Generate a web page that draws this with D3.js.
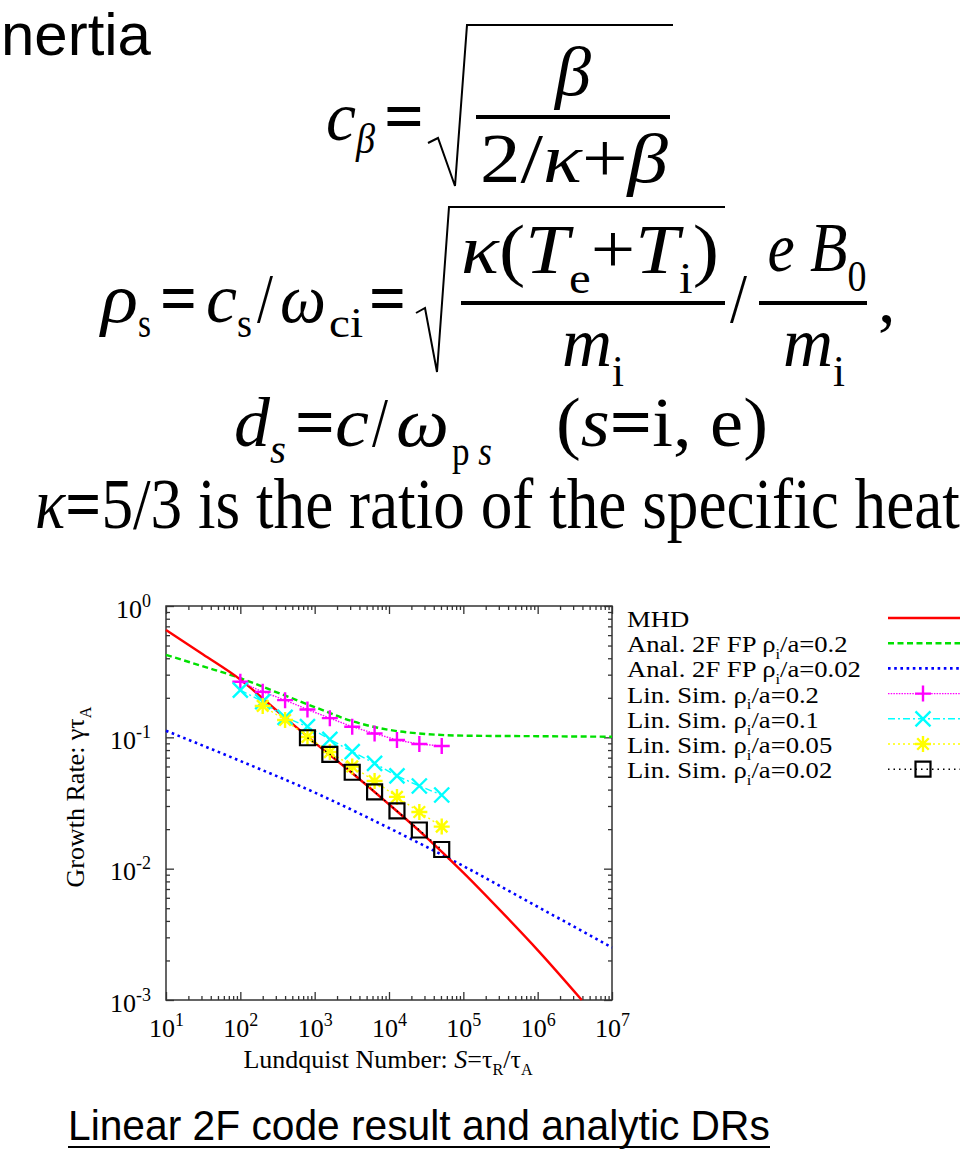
<!DOCTYPE html>
<html>
<head>
<meta charset="utf-8">
<title>Linear 2F code result</title>
<style>
body { margin: 0; background: #fff; }
svg { display: block; }
.sans { font-family: "Liberation Sans", Arial, sans-serif; }
</style>
</head>
<body>
<script src="https://cdn.jsdelivr.net/npm/d3@7/dist/d3.min.js"></script>
<script>

// ---- data ----
// Lundquist numbers of the linear runs
var sLin = [100, 200, 400, 800, 1600, 3200, 6400, 12800, 25600, 51200];
var sLin005 = [200, 400, 800, 1600, 3200, 6400, 12800, 25600, 51200];
var sLin002 = [800, 1600, 3200, 6400, 12800, 25600, 51200];

// growth rates of the linear simulations
var gLin02 = [0.265, 0.222, 0.192, 0.163, 0.140, 0.1205, 0.107, 0.0954, 0.0889, 0.0859];
var gLin01 = [0.229, 0.187, 0.142, 0.1205, 0.0966, 0.0778, 0.0634, 0.0508, 0.0426, 0.0364];
var gLin005 = [0.1734, 0.1355, 0.1007, 0.0773, 0.060, 0.0465, 0.0352, 0.0270, 0.0209];
var gLin002 = [0.0993, 0.0743, 0.0542, 0.0385, 0.0275, 0.0197, 0.0140];

// analytic curves
var sMhd = [10, 31.6, 100, 316, 1000, 3160, 1e4, 3.16e4, 1e5, 3.16e5, 1e6, 3.92e6];
var gMhd = [0.656, 0.427, 0.275, 0.158, 0.0912, 0.0537, 0.0309, 0.0174, 0.00933, 0.00479, 0.0024, 0.001];
var sAn02 = [10, 31.6, 100, 316, 1000, 3160, 1e4, 3.16e4, 1e5, 1e6, 1e7];
var gAn02 = [0.424, 0.347, 0.282, 0.219, 0.170, 0.133, 0.114, 0.106, 0.103, 0.102, 0.101];
var sAn002 = [10, 100, 1000, 1e4, 1e5, 1e6, 1e7];
var gAn002 = [0.1122, 0.0661, 0.0380, 0.0204, 0.01047, 0.00513, 0.00251];

var xTicks = [1e1, 1e2, 1e3, 1e4, 1e5, 1e6, 1e7];
var yTicks = [1e-3, 1e-2, 1e-1, 1];

var W = 964, H = 1157;
var svg = d3.select("body").append("svg").attr("width", W).attr("height", H);
svg.append("rect").attr("width", W).attr("height", H).attr("fill", "#fff");

var serif = '"Liberation Serif", "Times New Roman", serif';

// text run with italic / subscript pieces
function run(g, x, y, parts, size, anchor) {
  var t = g.append("text").attr("x", x).attr("y", y)
      .attr("font-family", serif).attr("font-size", size)
      .attr("text-anchor", anchor || "start");
  var shift = 0;
  parts.forEach(function(p) {
    var k = p[1] || "r";
    var sub = k.indexOf("s") == 0;
    var target = sub ? size * 0.28 : 0;
    var ts = t.append("tspan").text(p[0]).attr("dy", target - shift);
    shift = target;
    if (sub) ts.attr("font-size", size * 0.62);
    if (k.indexOf("i") >= 0) ts.attr("font-style", "italic");
    if (k.indexOf("b") >= 0) ts.attr("font-weight", "bold");
  });
  return t;
}
// squeeze / stretch a text horizontally about its anchor point
function stretch(t, k) {
  var x0 = +t.attr("x"), y0 = +t.attr("y");
  t.attr("transform", "translate(" + x0 + "," + y0 + ") scale(" + k + ",1) translate(" + (-x0) + "," + (-y0) + ")");
  return t;
}
function fit(t, w) {
  return stretch(t, w / t.node().getComputedTextLength());
}

// ---- slide text above the chart ----
var eq = svg.append("g");
fit(eq.append("text").attr("class", "sans").attr("x", 1).attr("y", 55)
   .attr("font-size", 60).text("nertia"), 150);

var E = 70, ES = 42;
// c_beta = sqrt(beta / (2/kappa + beta))
fit(run(eq, 326, 140, [["c", "i"]], E), 30);
fit(run(eq, 356, 153, [["β", "i"]], ES), 19);
fit(run(eq, 384, 140, [["=", "b"]], E), 40);
eq.append("path").attr("d", "M428,143L438,138L455,186L467,25H673")
   .attr("fill", "none").attr("stroke", "#000").attr("stroke-width", 2);
fit(run(eq, 573, 95, [["β", "i"]], E, "middle"), 36);
eq.append("line").attr("x1", 476).attr("x2", 670).attr("y1", 117).attr("y2", 117)
   .attr("stroke", "#000").attr("stroke-width", 4);
fit(run(eq, 574, 182, [["2/"], ["κ", "i"], ["+"], ["β", "i"]], E, "middle"), 188);

// rho_s line
fit(run(eq, 101, 322, [["ρ", "i"]], E), 37);
fit(run(eq, 138, 337, [["s"]], ES), 13);
fit(run(eq, 160, 322, [["=", "b"]], E), 37);
fit(run(eq, 206, 322, [["c", "i"]], E), 31);
fit(run(eq, 237, 337, [["s"]], ES), 15);
fit(run(eq, 257, 322, [["/"]], E), 16);
fit(run(eq, 280, 322, [["ω", "i"]], E), 46);
fit(run(eq, 329, 337, [["ci"]], ES), 34);
fit(run(eq, 369, 322, [["=", "b"]], E), 37);
eq.append("path").attr("d", "M416,313L425,308L437,372L449,207H725")
   .attr("fill", "none").attr("stroke", "#000").attr("stroke-width", 2);
fit(run(eq, 590, 273, [["κ", "i"], ["("], ["T", "i"], ["e", "s"], ["+"], ["T", "i"], ["i", "s"], [")"]], E, "middle"), 258);
eq.append("line").attr("x1", 461).attr("x2", 725).attr("y1", 303).attr("y2", 303)
   .attr("stroke", "#000").attr("stroke-width", 4);
fit(run(eq, 593, 366, [["m", "i"], ["i", "s"]], E, "middle"), 62);
fit(run(eq, 730, 322, [["/"]], E), 17);
fit(run(eq, 817, 271, [["e", "i"], [" "], ["B", "i"], ["0", "s"]], E, "middle"), 99);
eq.append("line").attr("x1", 759).attr("x2", 867).attr("y1", 303).attr("y2", 303)
   .attr("stroke", "#000").attr("stroke-width", 4);
fit(run(eq, 814, 366, [["m", "i"], ["i", "s"]], E, "middle"), 62);
run(eq, 878, 322, [[","]], E);

// d_s line
fit(run(eq, 234, 446, [["d", "i"]], E), 36);
fit(run(eq, 270, 463, [["s", "i"]], ES), 16);
fit(run(eq, 295, 446, [["=", "b"]], E), 40);
fit(run(eq, 335, 446, [["c", "i"]], E), 34);
fit(run(eq, 372, 446, [["/"]], E), 16);
fit(run(eq, 396, 446, [["ω", "i"]], E), 53);
fit(run(eq, 452, 465, [["p"], [" s", "i"]], ES), 40);
fit(run(eq, 556, 446, [["("], ["s", "i"], ["=", "b"], ["i"], [","], [" e"], [")"]], E), 212);

// kappa line
fit(run(eq, 35, 528, [["κ", "i"], ["=", "b"], ["5/3 is the ratio of the specific heat"]], 72), 925);

// ---- chart ----
var x = d3.scaleLog().domain([10, 1e7]).range([166, 612]);
var y = d3.scaleLog().domain([1e-3, 1]).range([1000, 606]);

function minors(lo, hi) {
  var out = [];
  for (var e = lo; e < hi; e++)
    for (var m = 2; m <= 9; m++) out.push(m * Math.pow(10, e));
  return out;
}
var xMinor = minors(1, 7), yMinor = minors(-3, 0);

var axisCol = "#333";
function tickAxis(axis, scale, vals, size, tr) {
  var g = svg.append("g").attr("transform", tr)
    .call(axis(scale).tickValues(vals).tickSize(-size).tickSizeOuter(0).tickFormat(""));
  g.select(".domain").remove();
  g.selectAll("line").attr("stroke", axisCol).attr("stroke-width", 1.3);
  return g;
}
tickAxis(d3.axisBottom, x, xMinor, 4, "translate(0,1000)");
tickAxis(d3.axisTop, x, xMinor, 4, "translate(0,606)");
tickAxis(d3.axisLeft, y, yMinor, 4, "translate(166,0)");
tickAxis(d3.axisRight, y, yMinor, 4, "translate(612,0)");
var xb = tickAxis(d3.axisBottom, x, xTicks, 8, "translate(0,1000)");
tickAxis(d3.axisTop, x, xTicks, 8, "translate(0,606)");
var yl = tickAxis(d3.axisLeft, y, yTicks, 8, "translate(166,0)");
tickAxis(d3.axisRight, y, yTicks, 8, "translate(612,0)");

svg.append("rect").attr("x", 166).attr("y", 606).attr("width", 446).attr("height", 394)
   .attr("fill", "none").attr("stroke", axisCol).attr("stroke-width", 1.5);

function expLabel(t, d) {
  var e = Math.round(Math.log10(d));
  t.text(null).attr("font-family", serif).attr("font-size", 26).attr("fill", "#000");
  t.append("tspan").text("10");
  t.append("tspan").text(e).attr("dy", -11).attr("font-size", 18);
}
xb.selectAll(".tick").each(function(d) {
  var t = d3.select(this).select("text");
  t.attr("y", 37).attr("dy", null).attr("text-anchor", "middle");
  expLabel(t, d);
});
yl.selectAll(".tick").each(function(d) {
  var t = d3.select(this).select("text");
  t.attr("x", -15).attr("dy", 11).attr("text-anchor", "end");
  expLabel(t, d);
});

// axis titles
run(svg, 388, 1068, [["Lundquist Number: "], ["S", "i"], ["=τ"], ["R", "s"], ["/τ"], ["A", "s"]], 26, "middle");
var ylab = svg.append("g").attr("transform", "translate(84,797) rotate(-90)");
run(ylab, 0, 0, [["Growth Rate: γτ"], ["A", "s"]], 26, "middle");

// curves
var line = d3.line().x(function(d) { return x(d[0]); }).y(function(d) { return y(d[1]); })
    .curve(d3.curveMonotoneX);
function zip(a, b) { return a.map(function(v, i) { return [v, b[i]]; }); }

var plot = svg.append("g");
plot.append("path").datum(zip(sAn002, gAn002)).attr("d", line)
    .attr("fill", "none").attr("stroke", "#0000ff").attr("stroke-width", 2.6).attr("stroke-dasharray", "2.6,3.6");
plot.append("path").datum(zip(sAn02, gAn02)).attr("d", line)
    .attr("fill", "none").attr("stroke", "#00e000").attr("stroke-width", 2.4).attr("stroke-dasharray", "6,3.5");
plot.append("path").datum(zip(sMhd, gMhd)).attr("d", line)
    .attr("fill", "none").attr("stroke", "#ff0000").attr("stroke-width", 2.4);

function plusP(h) { return "M" + (-h) + ",0H" + h + "M0," + (-h) + "V" + h; }
function crossP(h) { return "M" + (-h) + "," + (-h) + "L" + h + "," + h + "M" + (-h) + "," + h + "L" + h + "," + (-h); }
function starP(h) { return plusP(h) + crossP(h * 0.72); }
function squareP(h) { return "M" + (-h) + "," + (-h) + "H" + h + "V" + h + "H" + (-h) + "Z"; }

var series = [
  {s: sLin, g: gLin02, color: "#ff00ff", dash: "1.5,1.2", sym: plusP(8), sw: 2.4},
  {s: sLin, g: gLin01, color: "#00ffff", dash: "7,3,2,3", sym: crossP(7.5), sw: 2.4},
  {s: sLin005, g: gLin005, color: "#ffff00", dash: "2,3", sym: starP(8), sw: 2.4},
  {s: sLin002, g: gLin002, color: "#000000", dash: "1.5,4", sym: squareP(7.5), sw: 2.2}
];
var linLine = d3.line().x(function(d) { return x(d[0]); }).y(function(d) { return y(d[1]); });
series.forEach(function(se) {
  var pts = zip(se.s, se.g);
  plot.append("path").datum(pts).attr("d", linLine)
      .attr("fill", "none").attr("stroke", se.color).attr("stroke-width", 1.4)
      .attr("stroke-dasharray", se.dash);
  plot.selectAll(null).data(pts).enter().append("path")
      .attr("transform", function(d) { return "translate(" + x(d[0]) + "," + y(d[1]) + ")"; })
      .attr("d", se.sym).attr("fill", "none").attr("stroke", se.color).attr("stroke-width", se.sw);
});

// legend
var legend = [
  {label: [["MHD"]], color: "#ff0000", dash: null, w: 2.4},
  {label: [["Anal. 2F FP ρ"], ["i", "s"], ["/a=0.2"]], color: "#00e000", dash: "6,3.5", w: 2.4},
  {label: [["Anal. 2F FP ρ"], ["i", "s"], ["/a=0.02"]], color: "#0000ff", dash: "2.6,3.6", w: 2.6},
  {label: [["Lin. Sim. ρ"], ["i", "s"], ["/a=0.2"]], color: "#ff00ff", dash: "1.5,1.2", w: 1.4, sym: series[0]},
  {label: [["Lin. Sim. ρ"], ["i", "s"], ["/a=0.1"]], color: "#00ffff", dash: "7,3,2,3", w: 1.4, sym: series[1]},
  {label: [["Lin. Sim. ρ"], ["i", "s"], ["/a=0.05"]], color: "#ffff00", dash: "2,3", w: 1.4, sym: series[2]},
  {label: [["Lin. Sim. ρ"], ["i", "s"], ["/a=0.02"]], color: "#000000", dash: "1.5,4", w: 1.4, sym: series[3]}
];
legend.forEach(function(L, i) {
  var cy = 618 + i * 25.2;
  stretch(run(svg, 627, cy + 9, L.label, 24), 1.11);
  var ln = svg.append("line").attr("x1", 888).attr("x2", 960).attr("y1", cy).attr("y2", cy)
      .attr("stroke", L.color).attr("stroke-width", L.w);
  if (L.dash) ln.attr("stroke-dasharray", L.dash);
  if (L.sym) svg.append("path").attr("transform", "translate(923," + cy + ")")
      .attr("d", L.sym.sym).attr("fill", "none").attr("stroke", L.sym.color).attr("stroke-width", L.sym.sw);
});

// caption
fit(svg.append("text").attr("class", "sans").attr("x", 68).attr("y", 1140)
   .attr("font-size", 43).text("Linear 2F code result and analytic DRs"), 702);
svg.append("line").attr("x1", 68).attr("x2", 770).attr("y1", 1147).attr("y2", 1147)
   .attr("stroke", "#000").attr("stroke-width", 2);

</script>
</body>
</html>
